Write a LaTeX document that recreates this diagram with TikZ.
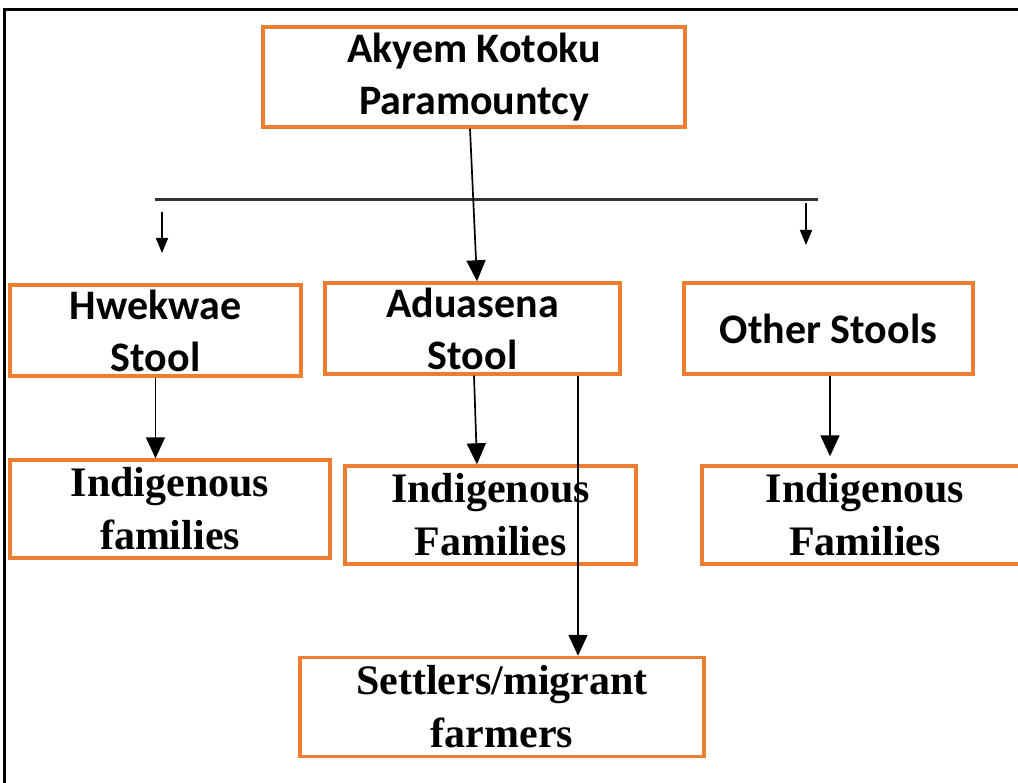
\documentclass[tikz,border=0pt]{standalone}
\usepackage{fontspec}
\setmainfont{Liberation Serif}
\newfontfamily\calib{Carlito}
\usetikzlibrary{arrows.meta}
\definecolor{boxorange}{RGB}{237,125,49}
\tikzset{
  box/.style={draw=boxorange, line width=3.4pt, inner sep=0pt, align=center},
  cal/.style={font=\calib\bfseries\fontsize{42}{52}\selectfont},
  tms/.style={font=\bfseries\fontsize{42}{53}\selectfont},
  bigarrow/.style={-{Triangle[width=19pt,length=21pt]}, line width=1.7pt},
  smallarrow/.style={-{Triangle[width=12pt,length=15pt]}, line width=1.7pt},
  frame/.style={line width=3pt},
}
\begin{document}
\begin{tikzpicture}[x=1pt,y=-1pt]
\useasboundingbox (0,0) rectangle (1018,783);
\clip (0,0) rectangle (1018,783);
\fill[white] (0,0) rectangle (1018,783);
% frame
\coordinate (f1) at (4,783);
\coordinate (f2) at (4,9.5);
\coordinate (f3) at (1020,9.5);
\draw[frame] (f1) -- (f2) -- (f3);
% nodes
\node[box, cal, minimum width=422pt, minimum height=100pt] (top) at (474,77) {Akyem Kotoku\\Paramountcy};
\node[box, cal, minimum width=291pt, minimum height=91pt] (hw) at (155.5,330.5) {Hwekwae\\Stool};
\node[box, cal, minimum width=295pt, minimum height=91pt] (ad) at (472.5,328.5) {Aduasena\\Stool};
\node[box, cal, minimum width=289pt, minimum height=91pt] (ot) at (828.5,328.5) {Other Stools};
\node[box, tms, minimum width=320pt, minimum height=98pt] (if1) at (170,509) {Indigenous\\families};
\node[box, tms, minimum width=291pt, minimum height=98pt] (if2) at (490.5,515) {Indigenous\\Families};
\node[box, tms, minimum width=326pt, minimum height=98pt] (if3) at (865,515) {Indigenous\\Families};
\node[box, tms, minimum width=404pt, minimum height=99pt] (st) at (502,707) {Settlers/migrant\\farmers};
% horizontal bar and short arrows
\coordinate (hl) at (155,199.5);
\coordinate (hr) at (818,199.5);
\draw[line width=2.2pt, black!80] (hl) -- (hr);
\coordinate (la1) at (162,212);
\coordinate (la2) at (162,253);
\draw[smallarrow] (la1) -- (la2);
\coordinate (ra1) at (806,203);
\coordinate (ra2) at (806,245);
\draw[smallarrow] (ra1) -- (ra2);
% connectors
\draw[bigarrow] ([xshift=-4pt]top.south) -- ([xshift=4.5pt]ad.north);
\draw[bigarrow] (hw.south) -- (hw.south |- if1.north);
\draw[bigarrow] ([xshift=1.5pt]ad.south) -- ([xshift=-13.5pt]if2.north);
\draw[bigarrow] ([xshift=105.5pt]ad.south) -- ([xshift=105.5pt]ad.south |- st.north);
\draw[bigarrow, shorten >=8pt] ([xshift=1.5pt]ot.south) -- ([xshift=1.5pt]ot.south |- if3.north);
\end{tikzpicture}
\end{document}
